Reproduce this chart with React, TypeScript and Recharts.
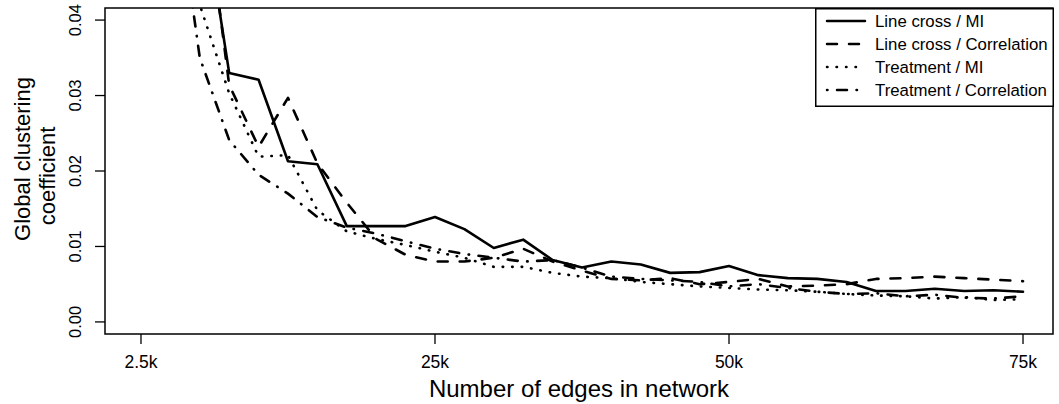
import { LineChart, Line, XAxis, YAxis, ReferenceArea, Legend, Label } from "recharts";

// network size steps, labelled every tenth step
const edgeStep = [
  0, 1, 2, 3, 4, 5, 6, 7, 8, 9, 10, 11, 12, 13, 14, 15, 16, 17, 18, 19, 20,
  21, 22, 23, 24, 25, 26, 27, 28, 29, 30,
];
const edgeTicks = [0, 10, 20, 30];
const edgeTickLabels = ["2.5k", "25k", "50k", "75k"];
const clusteringTicks = [0, 0.01, 0.02, 0.03, 0.04];

const lineCrossMI = [
  0.12, 0.09, 0.058, 0.033, 0.0321, 0.0213, 0.0209, 0.0127, 0.0127, 0.0127,
  0.0139, 0.0123, 0.0098, 0.0109, 0.0082, 0.0072, 0.008, 0.0076, 0.0065,
  0.0066, 0.0074, 0.0062, 0.0058, 0.0057, 0.0053, 0.0041, 0.0041, 0.0044,
  0.0041, 0.0042, 0.004,
];
const lineCrossCorrelation = [
  0.12, 0.09, 0.062, 0.0314, 0.0232, 0.0297, 0.021, 0.0158, 0.011, 0.0089,
  0.008, 0.008, 0.0085, 0.0097, 0.008, 0.0068, 0.0057, 0.0055, 0.0058, 0.005,
  0.0053, 0.0057, 0.0047, 0.0048, 0.005, 0.0057, 0.0058, 0.006, 0.0058,
  0.0056, 0.0054,
];
const treatmentMI = [
  0.1, 0.065, 0.042, 0.0303, 0.0219, 0.0221, 0.0148, 0.012, 0.011, 0.0102,
  0.0093, 0.0085, 0.0073, 0.0073, 0.0065, 0.006, 0.0058, 0.0053, 0.005,
  0.0047, 0.0045, 0.0043, 0.0042, 0.004, 0.0037, 0.0035, 0.0034, 0.0031,
  0.0033, 0.0029, 0.003,
];
const treatmentCorrelation = [
  0.1, 0.063, 0.035, 0.0241, 0.0195, 0.017, 0.0139, 0.0125, 0.0117, 0.0107,
  0.0097, 0.009, 0.0085, 0.008, 0.0082, 0.0072, 0.006, 0.0057, 0.0055,
  0.0053, 0.0047, 0.005, 0.0045, 0.004, 0.0037, 0.0038, 0.0034, 0.0036,
  0.0032, 0.0031, 0.0034,
];

const series = [
  { key: "lcMI", name: "Line cross / MI", values: lineCrossMI, dash: undefined },
  { key: "lcCor", name: "Line cross / Correlation", values: lineCrossCorrelation, dash: "10 12" },
  { key: "trMI", name: "Treatment / MI", values: treatmentMI, dash: "0.5 9" },
  { key: "trCor", name: "Treatment / Correlation", values: treatmentCorrelation, dash: "0.5 9.5 10 9.5" },
];

const data = edgeStep.map((step, i) => {
  const row: any = { step };
  series.forEach((s) => {
    row[s.key] = s.values[i];
  });
  return row;
});

const FONT = "'Liberation Sans', Arial, Helvetica, sans-serif";
const xDomain = [-1.224, 31.02];
const yDomain = [-0.0016, 0.0416];

const XTick = ({ x, y, payload }: any) => (
  <text x={x} y={y + 22} textAnchor="middle" fontSize={17.5} fontFamily={FONT} fill="#000">
    {edgeTickLabels[edgeTicks.indexOf(payload.value)]}
  </text>
);

const YTick = ({ y, payload }: any) => (
  <text
    x={75}
    y={y}
    transform={`rotate(-90, 75, ${y})`}
    textAnchor="middle"
    dominantBaseline="central"
    fontSize={16.5}
    fontFamily={FONT}
    fill="#000"
  >
    {payload.value.toFixed(2)}
  </text>
);

const YTitle = () => (
  <g fontFamily={FONT} fontSize={22} fill="#000">
    <text x={22} y={159} transform="rotate(-90, 22, 159)" textAnchor="middle" dominantBaseline="central">
      Global clustering
    </text>
    <text x={47} y={176} transform="rotate(-90, 47, 176)" textAnchor="middle" dominantBaseline="central">
      coefficient
    </text>
  </g>
);

const LegendBox = () => (
  <svg width={239} height={99} style={{ display: "block" }}>
    <rect x={0.75} y={0.75} width={237.5} height={97.5} fill="#fff" stroke="#000" strokeWidth={1.5} />
    {series.map((s, i) => {
      const cy = 13 + i * 23;
      return (
        <g key={s.key}>
          <line
            x1={12}
            x2={50}
            y1={cy}
            y2={cy}
            stroke="#000"
            strokeWidth={2.5}
            strokeLinecap="round"
            strokeDasharray={s.dash}
          />
          <text x={60} y={cy} dominantBaseline="central" fontSize={16.8} fontFamily={FONT} fill="#000">
            {s.name}
          </text>
        </g>
      );
    })}
  </svg>
);

export default function App() {
  return (
    <div style={{ position: "absolute", left: 0, top: 0, background: "#fff" }}>
      <LineChart width={1059} height={404} data={data} margin={{ top: 8, right: 6, left: 0, bottom: 0 }}>
        <XAxis
          dataKey="step"
          type="number"
          domain={xDomain}
          allowDataOverflow
          ticks={edgeTicks}
          tick={<XTick />}
          tickSize={10}
          tickLine={{ stroke: "#000", strokeWidth: 1.3 }}
          axisLine={false}
          height={70}
        >
          <Label
            value="Number of edges in network"
            position="insideBottom"
            offset={7}
            fontSize={24}
            fontFamily={FONT}
            fill="#000"
          />
        </XAxis>
        <YAxis
          type="number"
          domain={yDomain}
          allowDataOverflow
          ticks={clusteringTicks}
          tick={<YTick />}
          tickSize={10}
          tickLine={{ stroke: "#000", strokeWidth: 1.3 }}
          axisLine={false}
          width={105}
          label={<YTitle />}
        />
        <ReferenceArea
          x1={xDomain[0]}
          x2={xDomain[1]}
          y1={yDomain[0]}
          y2={yDomain[1]}
          fill="none"
          stroke="#000"
          strokeWidth={1.5}
          fillOpacity={0}
          ifOverflow="visible"
        />
        {series.map((s) => (
          <Line
            key={s.key}
            dataKey={s.key}
            name={s.name}
            stroke="#000"
            strokeWidth={2.6}
            strokeDasharray={s.dash}
            strokeLinecap="round"
            strokeLinejoin="round"
            dot={false}
            activeDot={false}
            isAnimationActive={false}
          />
        ))}
        <Legend
          layout="horizontal"
          verticalAlign="middle"
          content={<LegendBox />}
          wrapperStyle={{ left: 815, top: 8, width: 239, height: 99 }}
        />
      </LineChart>
    </div>
  );
}
